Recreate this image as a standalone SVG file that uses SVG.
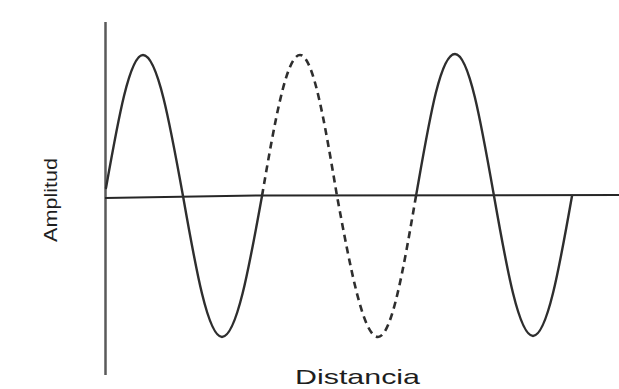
<svg xmlns="http://www.w3.org/2000/svg" width="619" height="389" viewBox="0 0 619 389">
  <style>
    .wave { fill: none; stroke: #2e2e2e; stroke-width: 2.4; stroke-linecap: round; stroke-linejoin: round; }
    .dash { stroke-dasharray: 7 5; stroke-linecap: butt; stroke-width: 2.6; }
    .label { font-family: "Liberation Sans", Arial, sans-serif; fill: #1e1e1e; }
  </style>
  <rect width="619" height="389" fill="#ffffff"/>
  <g id="axes">
    <line x1="105.5" y1="22" x2="105.5" y2="375" stroke="#5a5a5a" stroke-width="2.5"/>
    <path d="M105,198 L260,195.5 L619,195" fill="none" stroke="#262626" stroke-width="2"/>
  </g>
  <g id="wave">
    <path class="wave" d="M106,188 C118.1,119.9 129.6,55 143,55 C157.5,55 170,123.8 183,196 C195.7,268.2 207.9,337 222,337 C236.5,337 249,268.2 262,196"/>
    <path class="wave dash" d="M262,196 C274.4,123.8 286.2,55 300,55 C313.4,55 324.9,123.8 337,196 C350.4,268.2 363.2,337 378,337 C391.8,337 403.6,268.2 416,196"/>
    <path class="wave" d="M416,196 C428.7,123.8 439.9,54 455,54 C469.1,54 481.3,123.8 494,196 C506.7,268.2 518.9,336 533,336 C547.1,336 559.3,268.2 572,196"/>
  </g>
  <g id="labels">
    <text class="label" x="0" y="0" font-size="18" textLength="84" lengthAdjust="spacingAndGlyphs" transform="translate(57,242) rotate(-90)">Amplitud</text>
    <text class="label" x="295" y="384" font-size="21" textLength="125" lengthAdjust="spacingAndGlyphs">Distancia</text>
  </g>
</svg>
